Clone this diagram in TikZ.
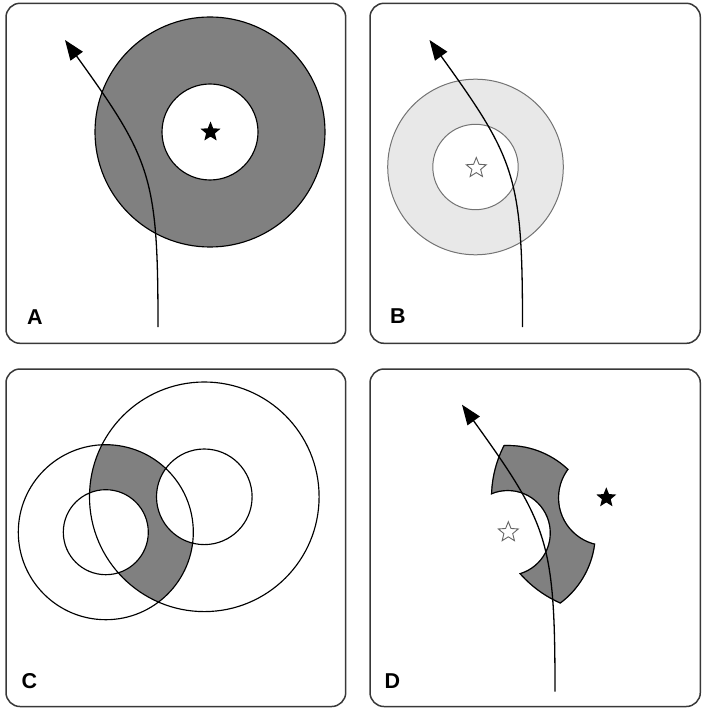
\documentclass[tikz,border=0pt]{standalone}
\usepackage{fontspec}
\setmainfont{Liberation Sans}
\usetikzlibrary{arrows.meta}
\definecolor{ringgray}{gray}{0.5}
\definecolor{lightring}{gray}{0.91}
\definecolor{lightedge}{gray}{0.45}
\definecolor{framegray}{gray}{0.22}
\definecolor{hollowedge}{gray}{0.4}
\tikzset{
  panel/.style={draw=framegray, line width=1.5pt, rounded corners=14pt},
  ringline/.style={draw=black, line width=1.15pt},
  lightline/.style={draw=lightedge, line width=1pt},
  track/.style={draw=black, line width=1.3pt, -{Triangle[length=20pt,width=15pt]}},
  panellabel/.style={font=\fontsize{21.5}{24}\selectfont\bfseries, inner sep=0pt, anchor=base west},
  fullstar/.style={fill=black},
  openstar/.style={draw=hollowedge, line width=0.9pt, fill=white},
  starshape/.pic={\path[pic actions] (-90:10.5) -- (-54:4.6) -- (-18:10.5) -- (18:4.6) -- (54:10.5) -- (90:4.6) -- (126:10.5) -- (162:4.6) -- (198:10.5) -- (234:4.6) -- cycle;}
}
\begin{document}
\begin{tikzpicture}[x=1pt,y=-1pt]
\useasboundingbox (0,0) rectangle (702,708);
% panels
\draw[panel] (6,3.3) rectangle (345.7,343.3);
\draw[panel] (370,3.3) rectangle (700.3,343.3);
\draw[panel] (6,369) rectangle (345.7,706.5);
\draw[panel] (370,369) rectangle (700.3,706.5);

% ---- Panel A
\coordinate (AC) at (210,132);
\fill[ringgray] (AC) circle (115pt);
\fill[white] (AC) circle (48pt);
\draw[ringline] (AC) circle (115pt) (AC) circle (48pt);
\pic[fullstar] at (210.5,132) {starshape};

% ---- Panel B
\coordinate (BC) at (475.5,167);
\fill[lightring] (BC) circle (87.8pt);
\fill[white] (BC) circle (42.7pt);
\draw[lightline] (BC) circle (87.8pt) (BC) circle (42.7pt);
\pic[openstar] at (476.3,168) {starshape};

% ---- Panel C
\coordinate (CR) at (204.3,496.8);
\coordinate (CL) at (105.8,532.2);
\begin{scope}
  \clip (CL) circle (87.5pt);
  \clip (CR) circle (114.8pt);
  \fill[ringgray] (CR) circle (114.8pt);
  \fill[white] (CL) circle (42.5pt) (CR) circle (47.8pt);
\end{scope}
\draw[ringline] (CR) circle (114.8pt) (CR) circle (47.8pt)
                (CL) circle (87.5pt) (CL) circle (42.5pt);

% ---- Panel D
\coordinate (DR) at (606.3,497.8);
\coordinate (DL) at (507.8,533.0);
\begin{scope}[even odd rule]
  \clip (DL) circle (88.1pt);
  \clip (DR) circle (115.4pt);
  \clip (360,360) rectangle (702,708) (DL) circle (41.9pt);
  \clip (360,360) rectangle (702,708) (DR) circle (47.2pt);
  \fill[ringgray] (360,360) rectangle (702,708);
  \draw[ringline] (DL) circle (87.5pt) (DR) circle (114.8pt)
                  (DL) circle (42.5pt) (DR) circle (47.8pt);
\end{scope}
\pic[fullstar] at (606.3,497.8) {starshape};
\pic[openstar] at (508.3,532.2) {starshape};

% ---- tracks
\foreach \dx/\dy/\n in {0/0/A, 364.5/0/B, 397/364.7/D} {
  \begin{scope}[shift={(\dx,\dy)}]
    \coordinate (start\n) at (158,327);
    \coordinate (tip\n) at (65,40);
    \draw[track] (start\n) .. controls (158,177) and (151.4,160) .. (tip\n);
  \end{scope}
}

% ---- labels
\node[panellabel] (labA) at (27,324.3) {A};
\node[panellabel] (labB) at (390,323.3) {B};
\node[panellabel] (labC) at (21.5,688.3) {C};
\node[panellabel] (labD) at (384.5,688.3) {D};
\end{tikzpicture}
\end{document}
